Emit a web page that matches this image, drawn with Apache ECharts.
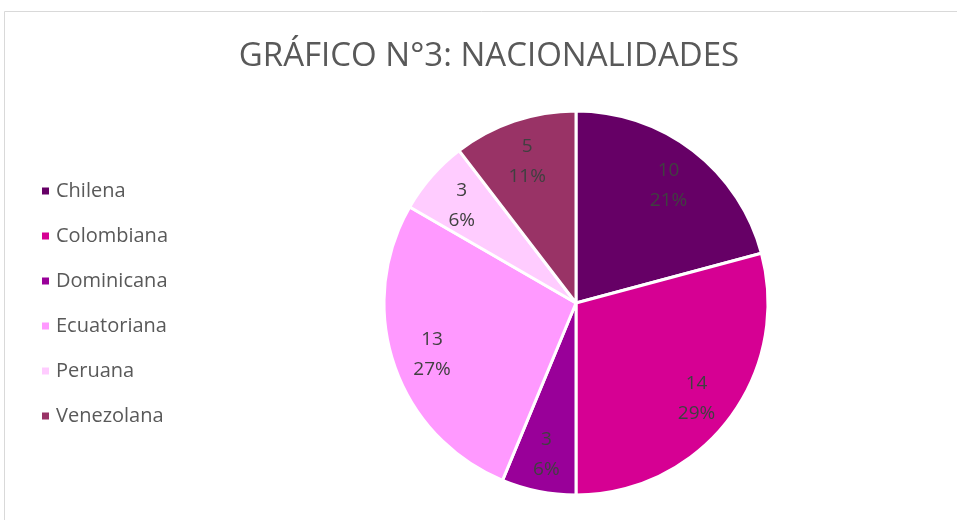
<!DOCTYPE html>
<html>
<head>
<meta charset="utf-8">
<script src="https://cdn.jsdelivr.net/npm/echarts@6/dist/echarts.min.js"></script>
<style>
    html, body { margin: 0; padding: 0; background: #fff; }
    #chart { width: 957px; height: 520px; }
</style>
</head>
<body>
<div id="chart"></div>
<script>
// datos del gráfico
var nacionalidades = ['Chilena', 'Colombiana', 'Dominicana', 'Ecuatoriana', 'Peruana', 'Venezolana'];
var cantidades = [10, 14, 3, 13, 3, 5];
var colores = ['#660066', '#D60093', '#990099', '#FF99FF', '#FFCCFF', '#993366'];

window.onload = function () {
    var datos = nacionalidades.map(function (n, i) {
        return { name: n, value: cantidades[i], itemStyle: { color: colores[i] } };
    });
    // copia transparente solo para poner las etiquetas más afuera
    var datosEtiquetas = nacionalidades.map(function (n, i) {
        return { name: n, value: cantidades[i] };
    });

    var option = {
        backgroundColor: '#fff',
        title: {
            text: 'GRÁFICO N°3: NACIONALIDADES',
            left: 489,
            top: 40,
            textAlign: 'center',
            padding: 0,
            textStyle: {
                color: '#595959',
                fontFamily: 'Open Sans',
                fontWeight: 'normal',
                fontSize: 33
            }
        },
        legend: {
            orient: 'vertical',
            left: 35,
            top: 176,
            itemWidth: 9,
            itemHeight: 9,
            itemGap: 25,
            icon: 'rect',
            data: nacionalidades,
            textStyle: {
                color: '#595959',
                fontFamily: 'Open Sans',
                fontSize: 20,
                padding: [0, 0, 0, 1]
            }
        },
        graphic: [{
            type: 'rect',
            silent: true,
            shape: { x: 4.5, y: 11.5, width: 1000, height: 600 },
            style: { fill: 'none', stroke: '#d9d9d9', lineWidth: 1 }
        }],
        series: [
            {
                name: 'Nacionalidades',
                type: 'pie',
                center: [576, 303],
                radius: [0, 192],
                startAngle: 90,
                animation: false,
                label: { show: false },
                labelLine: { show: false },
                itemStyle: { borderColor: '#fff', borderWidth: 3 },
                data: datos
            },
            {
                name: 'etiquetas',
                type: 'pie',
                center: [576, 303],
                radius: [106, 192],
                startAngle: 90,
                percentPrecision: 0,
                silent: true,
                animation: false,
                itemStyle: { color: 'rgba(0,0,0,0)' },
                label: {
                    show: true,
                    position: 'inside',
                    formatter: '{c}\n{d}%',
                    color: '#404040',
                    fontFamily: 'Open Sans',
                    fontSize: 19,
                    lineHeight: 30,
                    offset: [0, 3]
                },
                labelLine: { show: false },
                data: datosEtiquetas
            }
        ]
    };

    var myChart = echarts.init(document.getElementById('chart'));
    myChart.setOption(option);
};
</script>
</body>
</html>
